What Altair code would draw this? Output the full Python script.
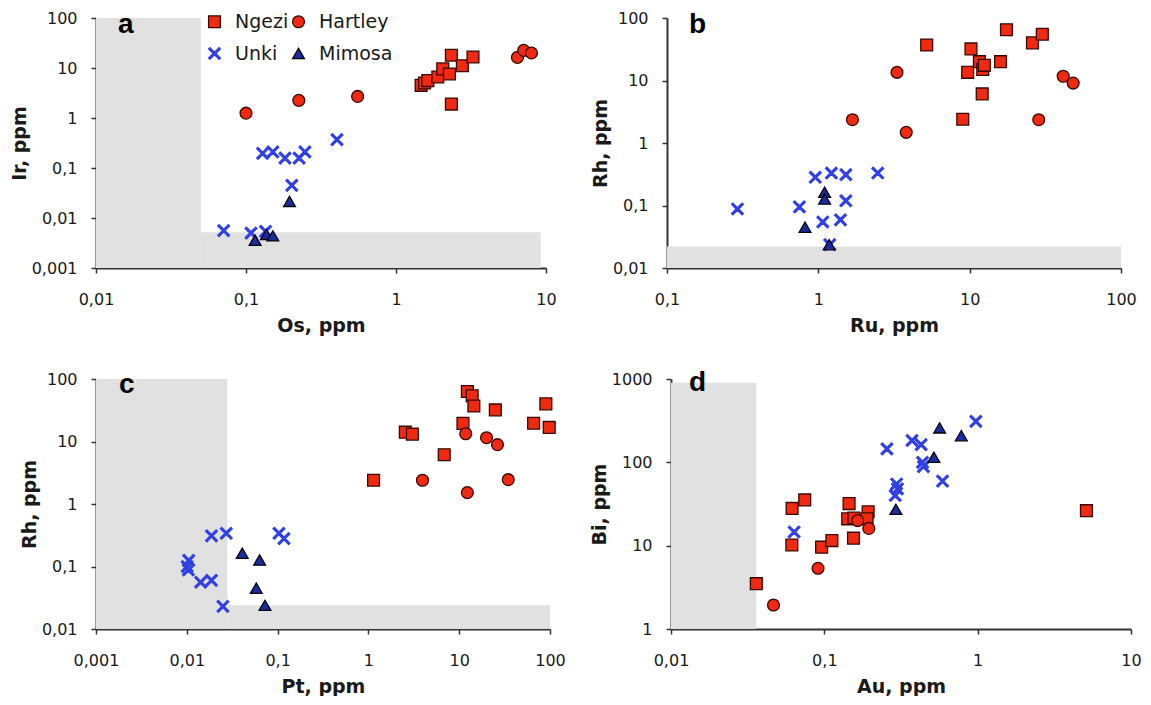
import altair as alt
import pandas as pd

# ---------------- data ----------------
SITES = ["Ngezi", "Hartley", "Unki", "Mimosa"]

# Panel a: Os (x) vs Ir (y)
a_ngezi_x = [1.47, 1.55, 1.63, 1.9, 2.05, 2.27, 2.34, 2.34, 2.77, 3.26]
a_ngezi_y = [4.5, 5.0, 5.6, 6.6, 9.6, 7.6, 18, 1.9, 11.1, 16.6]
a_hartley_x = [0.1, 0.225, 0.555, 6.45, 7.1, 8.0]
a_hartley_y = [1.25, 2.25, 2.7, 16.3, 22.5, 20]
a_unki_x = [0.071, 0.108, 0.135, 0.129, 0.151, 0.182, 0.226, 0.247, 0.404, 0.202]
a_unki_y = [0.0056, 0.005, 0.0054, 0.196, 0.21, 0.158, 0.158, 0.21, 0.37, 0.045]
a_mimosa_x = [0.115, 0.137, 0.151, 0.195]
a_mimosa_y = [0.0036, 0.0047, 0.0044, 0.0215]

# Panel b: Ru (x) vs Rh (y)
b_ngezi_x = [5.2, 17.5, 10.2, 26, 30.2, 9.7, 11.6, 12.2, 12.5, 16, 12.1, 9.0]
b_ngezi_y = [37, 65, 32, 40, 55, 13.5, 20, 15, 17.5, 20, 6.1, 2.4]
b_hartley_x = [3.31, 1.68, 3.81, 41.5, 48.3, 28.6]
b_hartley_y = [13.5, 2.36, 1.48, 11.7, 9.1, 2.36]
b_unki_x = [0.292, 0.75, 0.955, 1.22, 1.52, 2.47, 1.52, 1.07, 1.40, 1.19]
b_unki_y = [0.088, 0.095, 0.283, 0.331, 0.311, 0.331, 0.119, 0.0545, 0.059, 0.0236]
b_mimosa_x = [0.817, 1.1, 1.1, 1.18]
b_mimosa_y = [0.0448, 0.163, 0.127, 0.0236]

# Panel c: Pt (x) vs Rh (y)
c_ngezi_x = [1.14, 2.55, 3.05, 6.84, 11.0, 12.3, 13.9, 14.5, 25, 66, 90, 98]
c_ngezi_y = [2.4, 14.1, 13.1, 6.15, 19.5, 63, 54, 37, 32, 19.6, 40, 16.8]
c_hartley_x = [11.8, 20, 26.4, 3.94, 12.3, 34.7]
c_hartley_y = [13.3, 11.5, 8.9, 2.4, 1.52, 2.45]
c_unki_x = [0.0187, 0.0272, 0.1035, 0.1175, 0.0105, 0.0101, 0.0104, 0.0142, 0.0187, 0.025]
c_unki_y = [0.31, 0.34, 0.34, 0.28, 0.125, 0.1, 0.088, 0.056, 0.06, 0.023]
c_mimosa_x = [0.0408, 0.0634, 0.0582, 0.0726]
c_mimosa_y = [0.163, 0.127, 0.045, 0.0239]

# Panel d: Au (x) vs Bi (y)
d_ngezi_x = [0.036, 0.0616, 0.0614, 0.0745, 0.096, 0.112, 0.145, 0.142, 0.156, 0.155, 0.193, 0.19, 5.12]
d_ngezi_y = [3.5, 28, 10.2, 35.4, 9.6, 11.5, 32, 21, 21.5, 12.3, 25.5, 21, 26.3]
d_hartley_x = [0.0466, 0.091, 0.195, 0.165]
d_hartley_y = [1.94, 5.35, 16.1, 20]
d_unki_x = [0.0635, 0.256, 0.296, 0.3, 0.29, 0.373, 0.428, 0.437, 0.443, 0.59, 0.973]
d_unki_y = [14.6, 145, 55, 48, 40, 183, 163, 100, 89, 59.5, 310]
d_mimosa_x = [0.293, 0.565, 0.518, 0.782]
d_mimosa_y = [27.3, 259, 115, 209]

# Grey (below detection) fields
a_grey_x0, a_grey_x1 = [0.01, 0.05], [0.05, 9.2]
a_grey_y0, a_grey_y1 = [0.001, 0.001], [100, 0.0052]
b_grey_x0, b_grey_x1 = [0.1], [100]
b_grey_y0, b_grey_y1 = [0.01], [0.022]
c_grey_x0, c_grey_x1 = [0.001, 0.028], [0.028, 100]
c_grey_y0, c_grey_y1 = [0.01, 0.01], [100, 0.024]
d_grey_x0, d_grey_x1 = [0.01], [0.036]
d_grey_y0, d_grey_y1 = [1], [900]

# ---------------- styling ----------------
FONT = "DejaVu Sans"
TXT = "#1a1a1a"
AX = "#333333"
FILL = ["#f02a10", "#f02a10", "#3040e6", "#1c2c9e"]
STROKE = ["#3a0800", "#3a0800", "#3040e6", "#050510"]
X_PATH = ("M-1,-0.78L-0.78,-1L0,-0.22L0.78,-1L1,-0.78L0.22,0L1,0.78L0.78,1"
          "L0,0.22L-0.78,1L-1,0.78L-0.22,0Z")
SHAPES = ["square", "circle", X_PATH, "triangle-up"]
LBL = "replace(format(datum.value, '~g'), '.', ',')"


def frame(parts):
    rows = []
    for site, xs, ys in parts:
        for x, y in zip(xs, ys):
            rows.append({"site": site, "x": x, "y": y})
    return pd.DataFrame(rows)


def xaxis(title, vals):
    return alt.Axis(title=title, values=vals, labelExpr=LBL, grid=False,
                    tickSize=5, tickWidth=1.5, tickColor=AX, domainColor=AX,
                    domainWidth=2, labelFont=FONT, labelFontSize=16,
                    labelColor=TXT, labelPadding=18, labelOverlap=False,
                    labelFlush=False,
                    titleFont=FONT, titleFontSize=19, titleFontWeight="bold",
                    titleColor=TXT, titlePadding=9)


def yaxis(title, vals):
    return alt.Axis(title=title, values=vals, labelExpr=LBL, grid=False,
                    tickSize=5, tickWidth=1.5, tickColor=AX, domainColor=AX,
                    domainWidth=2, labelFont=FONT, labelFontSize=16,
                    labelColor=TXT, labelPadding=14, labelOverlap=False,
                    labelFlush=False,
                    titleFont=FONT, titleFontSize=19, titleFontWeight="bold",
                    titleColor=TXT, titlePadding=1.5)


def panel(df, grey, xdom, ydom, xvals, yvals, xtitle, ytitle, letter, lx, ly,
          w, h, legend):
    xs = alt.Scale(type="log", domain=xdom, nice=False)
    ys = alt.Scale(type="log", domain=ydom, nice=False)
    xa = xaxis(xtitle, xvals)
    ya = yaxis(ytitle, yvals)
    rect = alt.Chart(grey).mark_rect(color="#e1e1e1").encode(
        x=alt.X("x0:Q", scale=xs, axis=xa),
        x2="x1:Q",
        y=alt.Y("y0:Q", scale=ys, axis=ya),
        y2="y1:Q",
    )
    pts = alt.Chart(df).mark_point(filled=True, size=140, opacity=1,
                                   strokeWidth=1.3).encode(
        x=alt.X("x:Q", scale=xs, axis=xa),
        y=alt.Y("y:Q", scale=ys, axis=ya),
        shape=alt.Shape("site:N", scale=alt.Scale(domain=SITES, range=SHAPES),
                        legend=legend),
        fill=alt.Fill("site:N", scale=alt.Scale(domain=SITES, range=FILL),
                      legend=legend),
        stroke=alt.Stroke("site:N", scale=alt.Scale(domain=SITES, range=STROKE),
                          legend=legend),
    )
    txt = alt.Chart(pd.DataFrame({"t": [letter]})).mark_text(
        align="left", baseline="alphabetic", font="Liberation Sans",
        fontSize=28, fontWeight="bold", color="#000000").encode(
        x=alt.value(lx), y=alt.value(ly), text="t:N")
    return alt.layer(rect, pts, txt).properties(width=w, height=h)


def grey_frame(x0, x1, y0, y1):
    return pd.DataFrame({"x0": x0, "x1": x1, "y0": y0, "y1": y1})


legend_a = alt.Legend(title=None, orient="none", legendX=109, legendY=-6,
                      direction="horizontal", columns=2, gridAlign="each",
                      symbolSize=140, symbolStrokeWidth=1.3,
                      labelFont=FONT, labelFontSize=19, labelColor=TXT,
                      labelOffset=11, columnPadding=-8, rowPadding=12,
                      padding=0)

H = 250
pa = panel(frame([("Ngezi", a_ngezi_x, a_ngezi_y), ("Hartley", a_hartley_x, a_hartley_y),
                  ("Unki", a_unki_x, a_unki_y), ("Mimosa", a_mimosa_x, a_mimosa_y)]),
           grey_frame(a_grey_x0, a_grey_x1, a_grey_y0, a_grey_y1),
           [0.01, 10], [0.001, 100], [0.01, 0.1, 1, 10],
           [0.001, 0.01, 0.1, 1, 10, 100], "Os, ppm", "Ir, ppm", "a", 22, 15,
           450, H, legend_a)
pb = panel(frame([("Ngezi", b_ngezi_x, b_ngezi_y), ("Hartley", b_hartley_x, b_hartley_y),
                  ("Unki", b_unki_x, b_unki_y), ("Mimosa", b_mimosa_x, b_mimosa_y)]),
           grey_frame(b_grey_x0, b_grey_x1, b_grey_y0, b_grey_y1),
           [0.1, 100], [0.01, 100], [0.1, 1, 10, 100],
           [0.01, 0.1, 1, 10, 100], "Ru, ppm", "Rh, ppm", "b", 22, 15,
           454, H, None)
pc = panel(frame([("Ngezi", c_ngezi_x, c_ngezi_y), ("Hartley", c_hartley_x, c_hartley_y),
                  ("Unki", c_unki_x, c_unki_y), ("Mimosa", c_mimosa_x, c_mimosa_y)]),
           grey_frame(c_grey_x0, c_grey_x1, c_grey_y0, c_grey_y1),
           [0.001, 100], [0.01, 100], [0.001, 0.01, 0.1, 1, 10, 100],
           [0.01, 0.1, 1, 10, 100], "Pt, ppm", "Rh, ppm", "c", 23, 14,
           454, H, None)
pd_ = panel(frame([("Ngezi", d_ngezi_x, d_ngezi_y), ("Hartley", d_hartley_x, d_hartley_y),
                   ("Unki", d_unki_x, d_unki_y), ("Mimosa", d_mimosa_x, d_mimosa_y)]),
            grey_frame(d_grey_x0, d_grey_x1, d_grey_y0, d_grey_y1),
            [0.01, 10], [1, 1000], [0.01, 0.1, 1, 10],
            [1, 10, 100, 1000], "Au, ppm", "Bi, ppm", "d", 18, 12,
            460, H, None)

IND = dict(shape="independent", fill="independent", stroke="independent")
row1 = alt.hconcat(pa, pb, spacing=34).resolve_scale(**IND)
row2 = alt.hconcat(pc, pd_, spacing=24).resolve_scale(**IND)
chart = (alt.vconcat(row1, row2, spacing=34)
         .resolve_scale(**IND)
         .properties(padding={"left": 2, "top": 2, "right": 0, "bottom": 0},
                     background="white")
         .configure_view(stroke=None))

chart.save("out.html", embed_options={"renderer": "svg", "actions": False})
